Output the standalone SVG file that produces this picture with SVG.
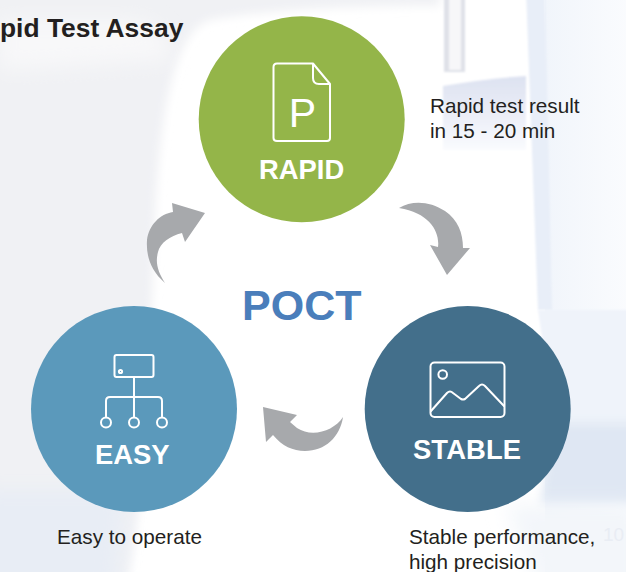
<svg xmlns="http://www.w3.org/2000/svg" width="626" height="572" viewBox="0 0 626 572">
<style>
.t{font-family:"Liberation Sans",Arial,sans-serif;font-size:20.700px;fill:#231f20}
.h{font-family:"Liberation Sans",Arial,sans-serif;font-size:27.400px;font-weight:700;fill:#fff}
.i{fill:none;stroke:#fff;stroke-width:2;stroke-linejoin:round;stroke-linecap:round}
.a{fill:#a7a9ac}
</style>
<defs>
<filter id="b8" x="-30%" y="-30%" width="160%" height="160%"><feGaussianBlur stdDeviation="10"/></filter>
<filter id="b3" x="-30%" y="-30%" width="160%" height="160%"><feGaussianBlur stdDeviation="1"/></filter>
<filter id="b5" x="-30%" y="-30%" width="160%" height="160%"><feGaussianBlur stdDeviation="5"/></filter>
<linearGradient id="lav" x1="0" y1="0" x2="0" y2="1"><stop offset="0" stop-color="#dde2f1"/><stop offset=".45" stop-color="#e9ecf6"/><stop offset="1" stop-color="#fafbfe"/></linearGradient>
<linearGradient id="pale" x1="0" y1="0" x2="1" y2="0"><stop offset="0" stop-color="#f1f5fb"/><stop offset="1" stop-color="#fbfcfe"/></linearGradient>
</defs>
<g id="background">
<rect width="626" height="572" fill="#fff"/>
<path d="M-20 -20H440V6C360 6 280 8 210 20C175 30 160 110 155 220C150 330 150 480 125 592H-20Z" fill="#f0f1f4" filter="url(#b5)"/>
<path d="M-20 490H125L115 600H-20Z" fill="#e8edf5" filter="url(#b8)"/>
<path d="M0 20H130C155 20 170 40 170 60L0 70Z" fill="#f8f8f9" filter="url(#b8)"/>
<rect x="545" y="-10" width="90" height="600" fill="url(#pale)"/>
<path d="M526 -10H545L552 310H538Z" fill="#e8eef8" filter="url(#b3)"/>
<path d="M443 86Q490 78 526 76V150H443Z" fill="url(#lav)" filter="url(#b3)"/>
<rect x="444" y="-10" width="21" height="82" fill="#dfe1e8" filter="url(#b3)"/>
<rect x="449" y="-10" width="12" height="80" fill="#f7f7f9" filter="url(#b3)"/>
<path d="M538 310H640V425H555Z" fill="#eff3fa" filter="url(#b3)"/>
<path d="M555 423H640V505H540Z" fill="#dfe7f3" filter="url(#b5)"/>
<path d="M505 505H640V600H545Z" fill="#f3f6fa" filter="url(#b8)"/>
<text x="603" y="541" style="font-family:'Liberation Sans',Arial,sans-serif;font-size:19px;fill:#e9edf4">10</text>
</g>
<text x="0" y="37" style="font-family:'Liberation Sans',Arial,sans-serif;font-size:26.400px;font-weight:700;fill:#231f20">pid Test Assay</text>
<g id="connectors">
<path class="a" d="M399 208C412 200 430 201 445 211C458 220 463 233 463 248L470 248L447 275L430 245L438 247C440 232 430 213 399 208Z"/>
<path class="a" d="M165 283C150 270 146 255 147 240C149 225 160 214 173 212L172 203L205 213L185 242L182 233C170 236 160 243 158 252C155 263 158 272 165 283Z"/>
<path class="a" d="M343 417C334 431 312 438 297 428L290 422L297 415L263 407L266 442L273 435C282 446 293 451 305 451C325 451 340 437 343 417Z"/>
</g>
<g id="rapid">
<circle cx="301.700" cy="119.300" r="103" fill="#94b549"/>
<path class="i" d="M313 63.500H277Q273.500 63.500 273.500 67V138Q273.500 141 277 141H327Q330 141 330 138V84L313 63.500ZM313 63.500V78Q313 84 319 84H330"/>
<text x="302.500" y="127" text-anchor="middle" style="font-family:'Liberation Sans',Arial,sans-serif;font-size:41px;fill:#fff">P</text>
<text class="h" x="259" y="179">RAPID</text>
</g>
<text class="t" x="430" y="112.500">Rapid test result</text>
<text class="t" x="430" y="138">in 15 - 20 min</text>
<text x="242" y="320" style="font-family:'Liberation Sans',Arial,sans-serif;font-size:43px;font-weight:700;fill:#4a7ebb">POCT</text>
<g id="easy">
<circle cx="134" cy="409" r="103" fill="#5b99bb"/>
<rect class="i" x="114.500" y="355" width="39" height="22" rx="2"/>
<circle class="i" cx="120.500" cy="371.500" r="1.600" stroke-width="1.500"/>
<path class="i" d="M134 377V417M106 417V401Q106 397 110 397H158Q162 397 162 401V417"/>
<circle class="i" cx="106" cy="422.500" r="5"/><circle class="i" cx="134" cy="422.500" r="5"/><circle class="i" cx="162" cy="422.500" r="5"/>
<text class="h" x="95" y="464">EASY</text>
</g>
<text class="t" x="57" y="544">Easy to operate</text>
<g id="stable">
<circle cx="467.700" cy="409" r="103" fill="#436f8b"/>
<rect class="i" x="430.500" y="362.500" width="74" height="54.500" rx="4"/>
<circle class="i" cx="442.700" cy="374.500" r="4.300"/>
<path class="i" d="M431 411L447 393Q450 390 453 393L461 399Q463 400 465 399L479 386Q482 383 485 386L504 406"/>
<text class="h" x="413" y="458.500" textLength="108">STABLE</text>
</g>
<text class="t" x="409" y="544">Stable performance,</text>
<text class="t" x="409" y="569">high precision</text>
</svg>
